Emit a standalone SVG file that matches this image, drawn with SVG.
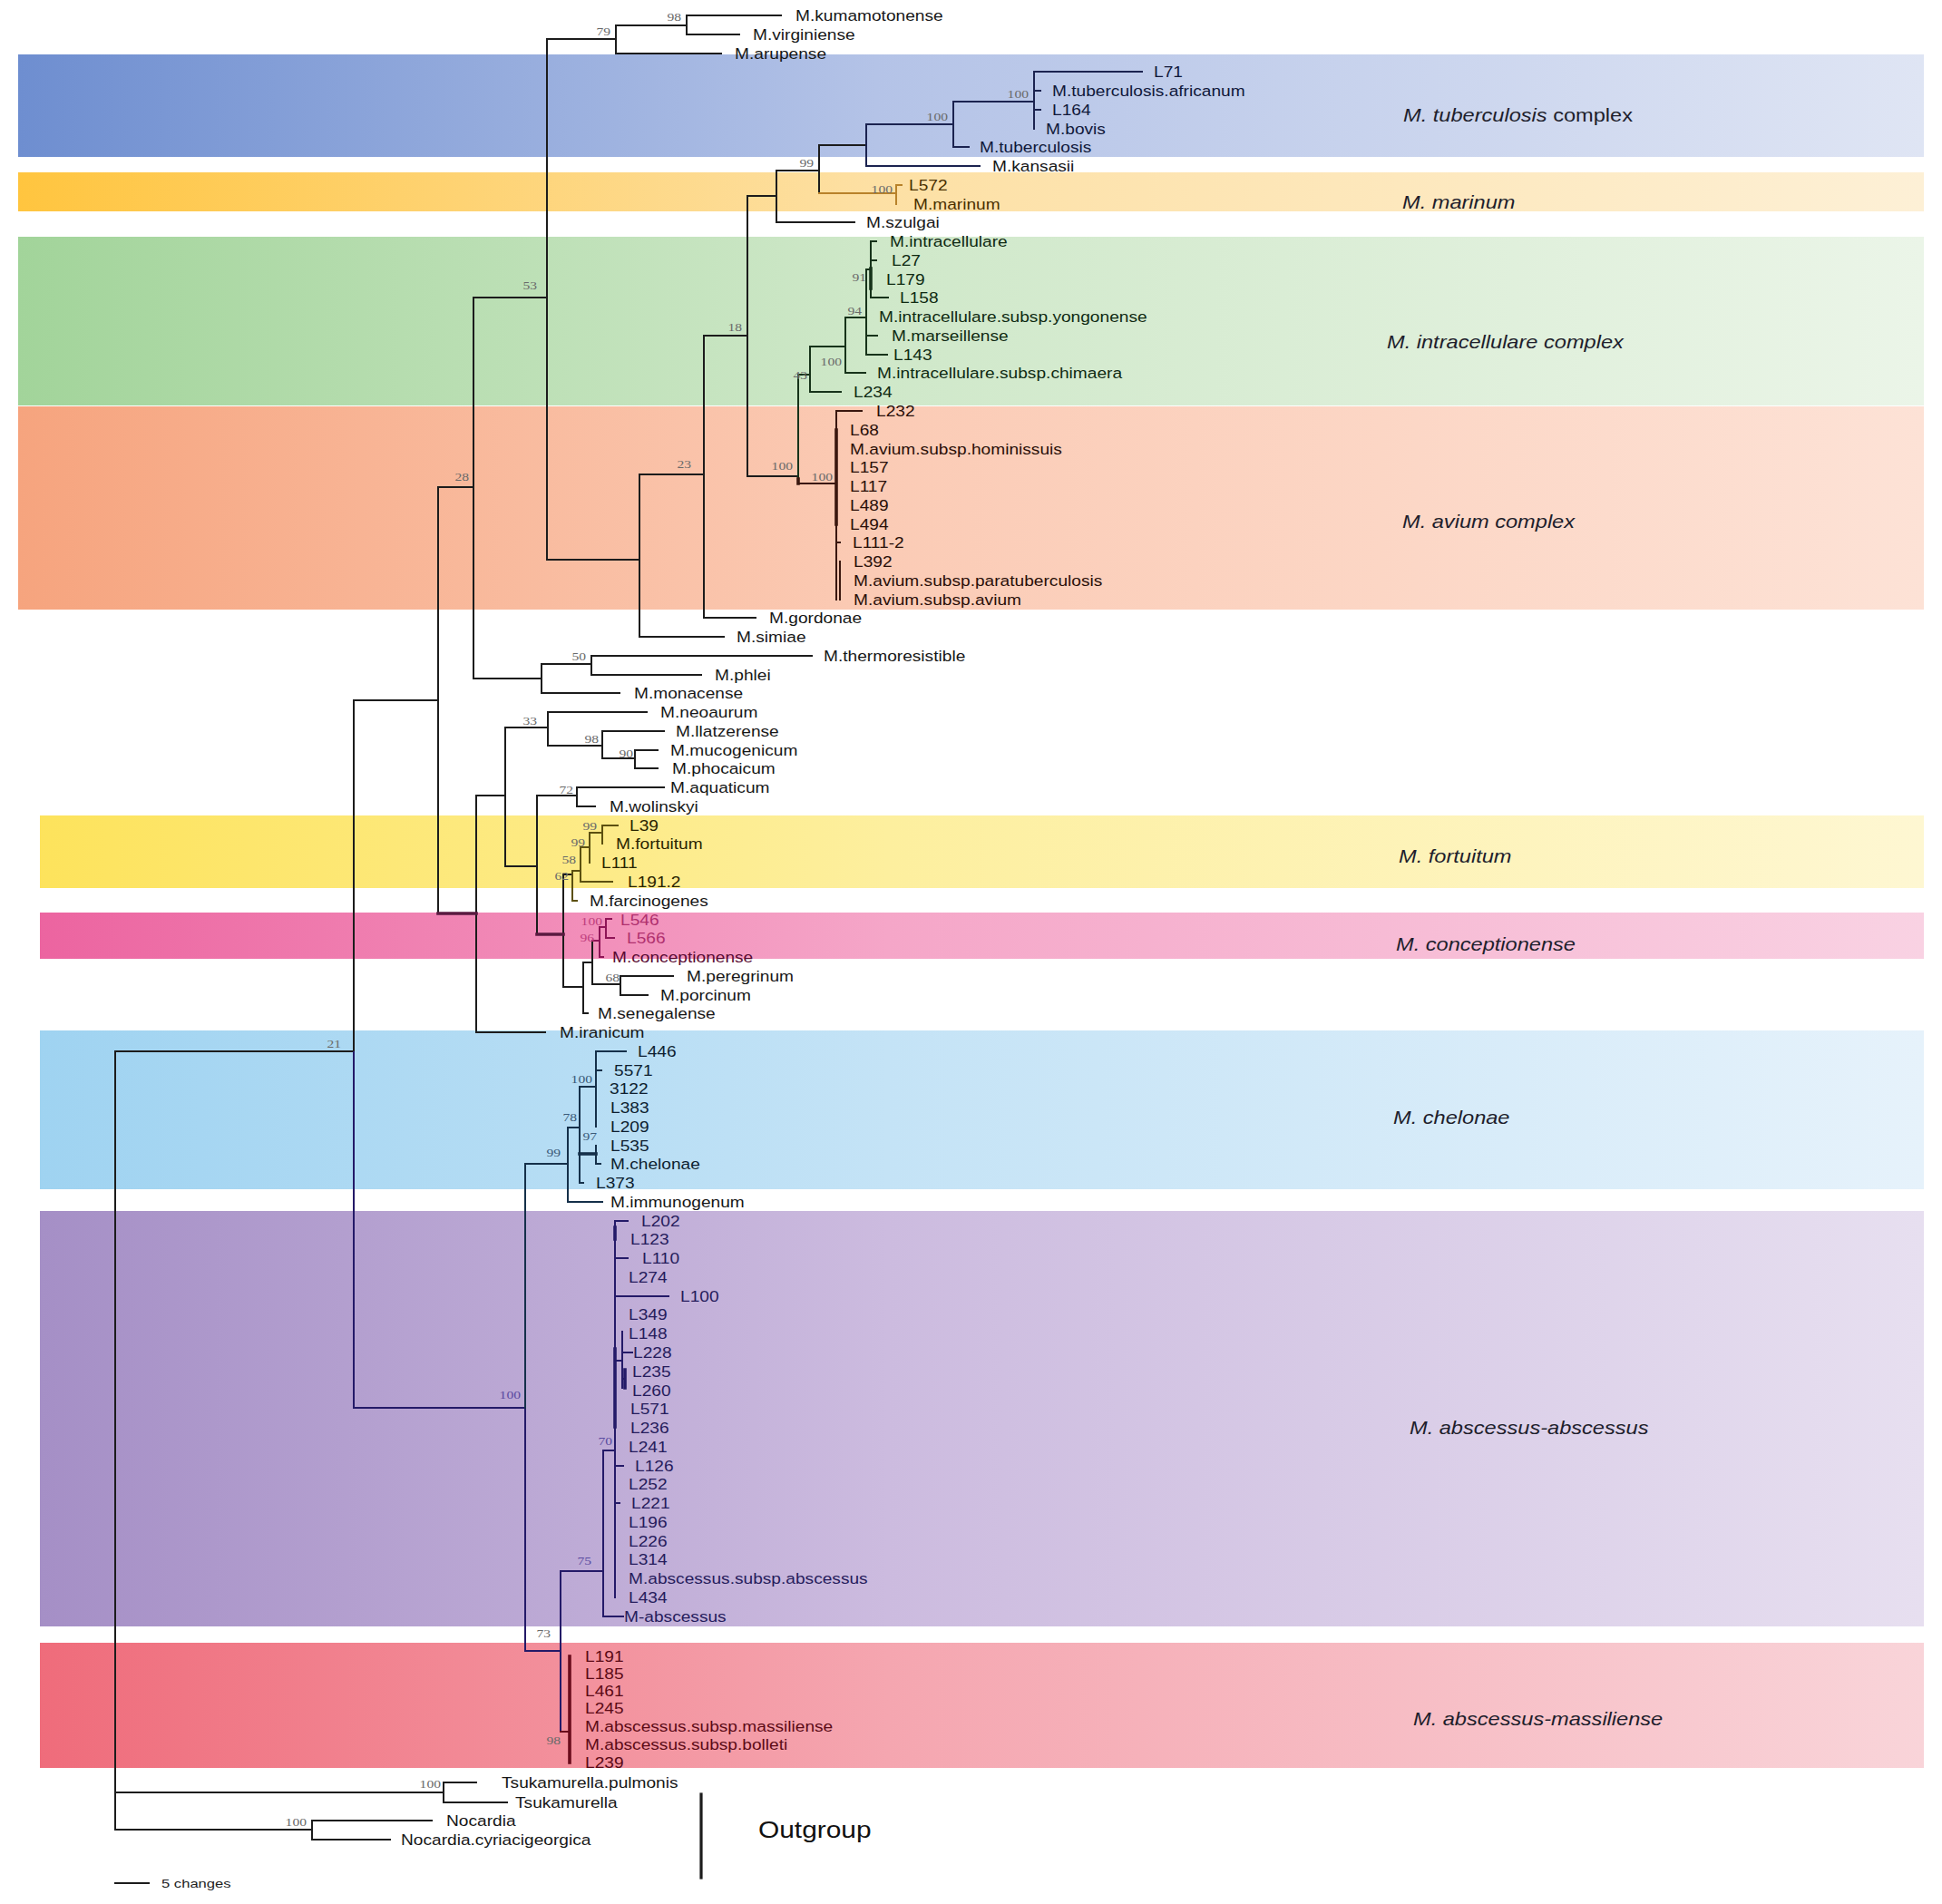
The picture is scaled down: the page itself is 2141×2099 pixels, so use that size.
<svg xmlns="http://www.w3.org/2000/svg" width="2141" height="2099" viewBox="0 0 2141 2099">
<style>
.br{fill:none;stroke:#1c1c1c;stroke-width:2;stroke-linecap:square}
.c-tb{stroke:#1b2350}
.c-ma{stroke:#b8822a}
.c-in{stroke:#17331a}
.c-av{stroke:#3a170e}
.c-fo{stroke:#5c5010}
.c-co{stroke:#8e1456}
.c-cm{stroke:#5a1a40}
.c-ch{stroke:#15304a}
.c-ab{stroke:#241a68}
.c-ms{stroke:#6a0c1c}
.thick{stroke-width:3.6}
.lf{font-family:"Liberation Sans",Arial,sans-serif;font-size:16.5px;fill:#171717}
.t-tb{fill:#10183a}.t-ma{fill:#4a3000}.t-in{fill:#0f2a12}.t-av{fill:#2a0f08}
.t-fo{fill:#2a2400}.t-co{fill:#b0306e}.t-cd{fill:#5a0a32}.t-ch{fill:#0e1e30}
.t-ab{fill:#261c5c}.t-ms{fill:#5c0a16}
.bs{font-family:"Liberation Serif","Times New Roman",serif;font-size:12px;fill:#6a6a6a;text-anchor:end}
.b-ab{fill:#5a4aa0}.b-co{fill:#c0407e}.b-ch{fill:#3a5a78}
.bl{font-family:"Liberation Sans",Arial,sans-serif;font-size:20px;font-style:italic;fill:#1e1e2c}
</style>
<defs>
<linearGradient id="g-tb" x1="20" y1="0" x2="2121" y2="0" gradientUnits="userSpaceOnUse"><stop offset="0" stop-color="#6e8ed0"/><stop offset="0.45" stop-color="#b4c3e7"/><stop offset="1" stop-color="#dfe5f4"/></linearGradient>
<linearGradient id="g-ma" x1="20" y1="0" x2="2121" y2="0" gradientUnits="userSpaceOnUse"><stop offset="0" stop-color="#ffc53f"/><stop offset="0.45" stop-color="#fde0a4"/><stop offset="1" stop-color="#fdf0d6"/></linearGradient>
<linearGradient id="g-in" x1="20" y1="0" x2="2121" y2="0" gradientUnits="userSpaceOnUse"><stop offset="0" stop-color="#a2d49a"/><stop offset="0.45" stop-color="#cfe8c9"/><stop offset="1" stop-color="#ebf5e8"/></linearGradient>
<linearGradient id="g-av" x1="20" y1="0" x2="2121" y2="0" gradientUnits="userSpaceOnUse"><stop offset="0" stop-color="#f6a47e"/><stop offset="0.45" stop-color="#fbcbb5"/><stop offset="1" stop-color="#fde2d6"/></linearGradient>
<linearGradient id="g-fo" x1="44" y1="0" x2="2121" y2="0" gradientUnits="userSpaceOnUse"><stop offset="0" stop-color="#fde35c"/><stop offset="0.45" stop-color="#fdef9e"/><stop offset="1" stop-color="#fef7d2"/></linearGradient>
<linearGradient id="g-co" x1="44" y1="0" x2="2121" y2="0" gradientUnits="userSpaceOnUse"><stop offset="0" stop-color="#ec64a0"/><stop offset="0.45" stop-color="#f5a6c8"/><stop offset="1" stop-color="#f9d2e3"/></linearGradient>
<linearGradient id="g-ch" x1="44" y1="0" x2="2121" y2="0" gradientUnits="userSpaceOnUse"><stop offset="0" stop-color="#9fd3f1"/><stop offset="0.45" stop-color="#c4e3f6"/><stop offset="1" stop-color="#e6f2fb"/></linearGradient>
<linearGradient id="g-ab" x1="44" y1="0" x2="2121" y2="0" gradientUnits="userSpaceOnUse"><stop offset="0" stop-color="#a58fc6"/><stop offset="0.45" stop-color="#ccbbdf"/><stop offset="1" stop-color="#e7dff0"/></linearGradient>
<linearGradient id="g-ms" x1="44" y1="0" x2="2121" y2="0" gradientUnits="userSpaceOnUse"><stop offset="0" stop-color="#ef6c7b"/><stop offset="0.45" stop-color="#f5a6b0"/><stop offset="1" stop-color="#f9d4d9"/></linearGradient>
</defs>
<rect width="2141" height="2099" fill="#ffffff"/>
<g id="bands">
<rect x="20" y="60" width="2101" height="113" fill="url(#g-tb)"/>
<rect x="20" y="190" width="2101" height="43" fill="url(#g-ma)"/>
<rect x="20" y="261" width="2101" height="186" fill="url(#g-in)"/>
<rect x="20" y="448" width="2101" height="224" fill="url(#g-av)"/>
<rect x="44" y="899" width="2077" height="80" fill="url(#g-fo)"/>
<rect x="44" y="1006" width="2077" height="51" fill="url(#g-co)"/>
<rect x="44" y="1136" width="2077" height="175" fill="url(#g-ch)"/>
<rect x="44" y="1335" width="2077" height="458" fill="url(#g-ab)"/>
<rect x="44" y="1811" width="2077" height="138" fill="url(#g-ms)"/>
</g>
<g id="band-labels">
<g id="lab-tb" transform="translate(1547 134)"><text class="bl" transform="scale(1.18 1)">M. tuberculosis<tspan font-style="normal"> complex</tspan></text></g>
<g id="lab-ma" transform="translate(1546 230)"><text class="bl" transform="scale(1.18 1)">M. marinum</text></g>
<g id="lab-in" transform="translate(1529 384)"><text class="bl" transform="scale(1.18 1)">M. intracellulare complex</text></g>
<g id="lab-av" transform="translate(1546 582)"><text class="bl" transform="scale(1.18 1)">M. avium complex</text></g>
<g id="lab-fo" transform="translate(1542 951)"><text class="bl" transform="scale(1.18 1)">M. fortuitum</text></g>
<g id="lab-co" transform="translate(1539 1048)"><text class="bl" transform="scale(1.18 1)">M. conceptionense</text></g>
<g id="lab-ch" transform="translate(1536 1239)"><text class="bl" transform="scale(1.18 1)">M. chelonae</text></g>
<g id="lab-ab" transform="translate(1554 1581)"><text class="bl" transform="scale(1.18 1)">M. abscessus-abscessus</text></g>
<g id="lab-ms" transform="translate(1558 1902)"><text class="bl" transform="scale(1.18 1)">M. abscessus-massiliense</text></g>
</g>
<g id="connectors">
<path class="br" d="M127 1159 V2017 M127 1159 H390 M127 1976 H489 M127 2017 H344 M489 1965 V1987 M489 1965 H525 M489 1987 H559 M344 2007 V2028 M344 2007 H476 M344 2028 H430"/>
<path class="br" d="M390 772 V1552 M390 772 H483 M483 537 V1007 M483 537 H522 M522 328 V748 M522 328 H603 M522 748 H597 M603 43 V617 M603 43 H679 M603 617 H705 M679 28 V59 M679 28 H757 M679 59 H795 M757 17 V38 M757 17 H861 M757 38 H815"/>
<path class="br" d="M705 523 V702 M705 523 H776 M705 702 H798 M776 370 V681 M776 370 H824 M776 681 H833 M824 216 V525 M824 216 H856 M824 525 H880 M856 188 V245 M856 188 H903 M856 245 H942 M903 160 V213 M903 160 H955"/>
<path class="br c-tb" d="M955 137 V183 M955 137 H1051 M955 183 H1080 M1051 112 V162 M1051 112 H1140 M1051 162 H1068 M1140 79 V142 M1140 79 H1259 M1140 100 H1147 M1140 121 H1147"/>
<path class="br c-ma" d="M903 213 H988 M988 204 V225 M988 204 H994"/>
<path class="br c-in" d="M880 413 V533 M880 413 H893 M893 382 V432 M893 382 H932 M893 432 H927 M932 350 V411 M932 350 H955 M932 411 H954 M955 297 V391 M955 297 H960 M955 370 H967 M955 391 H978 M960 266 V328 M960 266 H966 M960 287 H966 M960 328 H979"/>
<path class="br c-in thick" d="M960 296 V318"/>
<path class="br c-av" d="M880 533 H922 M922 453 V661 M922 453 H950 M922 598 H926 M926 619 V661"/>
<path class="br c-av thick" d="M922 474 V578 M880 528 V533"/>
<path class="br" d="M597 732 V764 M597 732 H652 M597 764 H683 M652 723 V744 M652 723 H895 M652 744 H773"/>
<path class="br" d="M525 877 V1138 M525 877 H557 M525 1138 H601 M557 802 V955 M557 802 H604 M557 955 H592 M604 785 V822 M604 785 H713 M604 822 H664 M664 806 V836 M664 806 H732 M664 836 H700 M700 827 V847 M700 827 H725 M700 847 H725 M592 877 V1030 M592 877 H636 M636 868 V889 M636 868 H732 M636 889 H656 M621 964 V1088 M621 964 H631 M621 1088 H643"/>
<path class="br c-cm thick" d="M483 1007 H525 M592 1030 H621"/>
<path class="br c-fo" d="M631 960 V993 M631 960 H640 M631 993 H636 M640 934 V972 M640 934 H650 M640 972 H675 M650 918 V951 M650 918 H664 M664 910 V930 M664 910 H681"/>
<path class="br" d="M643 1061 V1117 M643 1061 H653 M643 1117 H648 M653 1037 V1085 M653 1085 H684 M684 1076 V1097 M684 1076 H742 M684 1097 H714"/>
<path class="br c-co" d="M653 1037 H661 M661 1022 V1055 M661 1022 H668 M661 1055 H665 M668 1013 V1034 M668 1013 H674 M668 1034 H677"/>
<path class="br c-ab" d="M390 1160 V1552 M390 1552 H579 M579 1552 V1820"/>
<path class="br c-ch" d="M579 1283 V1552 M579 1283 H626 M626 1243 V1325 M626 1243 H639 M626 1325 H664 M639 1198 V1304 M639 1198 H657 M639 1304 H643 M657 1159 V1242 M657 1159 H690 M657 1180 H663 M657 1263 V1283 M657 1283 H662"/>
<path class="br c-ch thick" d="M639 1272 H657"/>
<path class="br c-ab" d="M579 1820 H618 M618 1732 V1909 M618 1732 H665 M665 1599 V1782 M665 1599 H678 M665 1782 H687 M678 1346 V1761 M678 1346 H692 M678 1387 H692 M678 1429 H737 M678 1500 H686 M686 1468 V1530 M686 1491 H697 M686 1520 H689 M678 1616 H687 M678 1657 H683"/>
<path class="br c-ab thick" d="M678 1353 V1366 M678 1487 V1573 M689 1510 V1530"/>
<path class="br c-ms" d="M618 1909 H628"/>
<path class="br c-ms thick" d="M628 1826 V1943"/>
<path class="br" d="M127 2076 H164"/>
<path class="br" style="stroke-width:3.2" d="M773 1978 V2070"/>
</g>
<g id="support">
<g transform="translate(751 23)"><text class="bs" transform="scale(1.3 1)">98</text></g>
<g transform="translate(673 39)"><text class="bs" transform="scale(1.3 1)">79</text></g>
<g transform="translate(1134 108)"><text class="bs" transform="scale(1.3 1)">100</text></g>
<g transform="translate(1045 133)"><text class="bs" transform="scale(1.3 1)">100</text></g>
<g transform="translate(897 184)"><text class="bs" transform="scale(1.3 1)">99</text></g>
<g transform="translate(984 213)"><text class="bs" transform="scale(1.3 1)">100</text></g>
<g transform="translate(955 310)"><text class="bs" transform="scale(1.3 1)">91</text></g>
<g transform="translate(950 347)"><text class="bs" transform="scale(1.3 1)">94</text></g>
<g transform="translate(928 403)"><text class="bs" transform="scale(1.3 1)">100</text></g>
<g transform="translate(890 418)"><text class="bs" transform="scale(1.3 1)">43</text></g>
<g transform="translate(818 365)"><text class="bs" transform="scale(1.3 1)">18</text></g>
<g transform="translate(874 518)"><text class="bs" transform="scale(1.3 1)">100</text></g>
<g transform="translate(918 530)"><text class="bs" transform="scale(1.3 1)">100</text></g>
<g transform="translate(762 516)"><text class="bs" transform="scale(1.3 1)">23</text></g>
<g transform="translate(592 319)"><text class="bs" transform="scale(1.3 1)">53</text></g>
<g transform="translate(517 530)"><text class="bs" transform="scale(1.3 1)">28</text></g>
<g transform="translate(376 1155)"><text class="bs" transform="scale(1.3 1)">21</text></g>
<g transform="translate(646 728)"><text class="bs" transform="scale(1.3 1)">50</text></g>
<g transform="translate(592 799)"><text class="bs" transform="scale(1.3 1)">33</text></g>
<g transform="translate(660 819)"><text class="bs" transform="scale(1.3 1)">98</text></g>
<g transform="translate(698 835)"><text class="bs" transform="scale(1.3 1)">90</text></g>
<g transform="translate(632 875)"><text class="bs" transform="scale(1.3 1)">72</text></g>
<g transform="translate(658 915)"><text class="bs" transform="scale(1.3 1)">99</text></g>
<g transform="translate(645 933)"><text class="bs" transform="scale(1.3 1)">99</text></g>
<g transform="translate(635 952)"><text class="bs" transform="scale(1.3 1)">58</text></g>
<g transform="translate(627 970)"><text class="bs" transform="scale(1.3 1)">62</text></g>
<g transform="translate(664 1020)"><text class="bs b-co" transform="scale(1.3 1)">100</text></g>
<g transform="translate(655 1038)"><text class="bs b-co" transform="scale(1.3 1)">96</text></g>
<g transform="translate(683 1082)"><text class="bs" transform="scale(1.3 1)">68</text></g>
<g transform="translate(653 1194)"><text class="bs b-ch" transform="scale(1.3 1)">100</text></g>
<g transform="translate(636 1236)"><text class="bs b-ch" transform="scale(1.3 1)">78</text></g>
<g transform="translate(658 1257)"><text class="bs b-ch" transform="scale(1.3 1)">97</text></g>
<g transform="translate(618 1275)"><text class="bs b-ch" transform="scale(1.3 1)">99</text></g>
<g transform="translate(574 1542)"><text class="bs b-ab" transform="scale(1.3 1)">100</text></g>
<g transform="translate(675 1593)"><text class="bs b-ab" transform="scale(1.3 1)">70</text></g>
<g transform="translate(652 1725)"><text class="bs b-ab" transform="scale(1.3 1)">75</text></g>
<g transform="translate(607 1805)"><text class="bs" transform="scale(1.3 1)">73</text></g>
<g transform="translate(618 1923)"><text class="bs" transform="scale(1.3 1)">98</text></g>
<g transform="translate(486 1971)"><text class="bs" transform="scale(1.3 1)">100</text></g>
<g transform="translate(338 2013)"><text class="bs" transform="scale(1.3 1)">100</text></g>
</g>
<g id="leaves">
<g id="n-kumamotonense" transform="translate(877 23)"><text class="lf" transform="scale(1.16 1)">M.kumamotonense</text></g>
<g id="n-virginiense" transform="translate(830 43.8)"><text class="lf" transform="scale(1.16 1)">M.virginiense</text></g>
<g id="n-arupense" transform="translate(810 64.5)"><text class="lf" transform="scale(1.16 1)">M.arupense</text></g>
<g id="n-L71" transform="translate(1272 85.3)"><text class="lf t-tb" transform="scale(1.16 1)">L71</text></g>
<g id="n-africanum" transform="translate(1160 106)"><text class="lf t-tb" transform="scale(1.16 1)">M.tuberculosis.africanum</text></g>
<g id="n-L164" transform="translate(1160 126.8)"><text class="lf t-tb" transform="scale(1.16 1)">L164</text></g>
<g id="n-bovis" transform="translate(1153 147.6)"><text class="lf t-tb" transform="scale(1.16 1)">M.bovis</text></g>
<g id="n-tuberculosis" transform="translate(1080 168.3)"><text class="lf t-tb" transform="scale(1.16 1)">M.tuberculosis</text></g>
<g id="n-kansasii" transform="translate(1094 189.1)"><text class="lf" transform="scale(1.16 1)">M.kansasii</text></g>
<g id="n-L572" transform="translate(1002 209.8)"><text class="lf t-ma" transform="scale(1.16 1)">L572</text></g>
<g id="n-marinum" transform="translate(1007 230.6)"><text class="lf t-ma" transform="scale(1.16 1)">M.marinum</text></g>
<g id="n-szulgai" transform="translate(955 251.4)"><text class="lf" transform="scale(1.16 1)">M.szulgai</text></g>
<g id="n-intracellulare" transform="translate(981 272.1)"><text class="lf t-in" transform="scale(1.16 1)">M.intracellulare</text></g>
<g id="n-L27" transform="translate(983 292.9)"><text class="lf t-in" transform="scale(1.16 1)">L27</text></g>
<g id="n-L179" transform="translate(977 313.6)"><text class="lf t-in" transform="scale(1.16 1)">L179</text></g>
<g id="n-L158" transform="translate(992 334.4)"><text class="lf t-in" transform="scale(1.16 1)">L158</text></g>
<g id="n-yongonense" transform="translate(969 355.2)"><text class="lf t-in" transform="scale(1.16 1)">M.intracellulare.subsp.yongonense</text></g>
<g id="n-marseillense" transform="translate(983 375.9)"><text class="lf t-in" transform="scale(1.16 1)">M.marseillense</text></g>
<g id="n-L143" transform="translate(985 396.7)"><text class="lf t-in" transform="scale(1.16 1)">L143</text></g>
<g id="n-chimaera" transform="translate(967 417.4)"><text class="lf t-in" transform="scale(1.16 1)">M.intracellulare.subsp.chimaera</text></g>
<g id="n-L234" transform="translate(941 438.2)"><text class="lf t-in" transform="scale(1.16 1)">L234</text></g>
<g id="n-L232" transform="translate(966 459)"><text class="lf t-av" transform="scale(1.16 1)">L232</text></g>
<g id="n-L68" transform="translate(937 479.7)"><text class="lf t-av" transform="scale(1.16 1)">L68</text></g>
<g id="n-hominissuis" transform="translate(937 500.5)"><text class="lf t-av" transform="scale(1.16 1)">M.avium.subsp.hominissuis</text></g>
<g id="n-L157" transform="translate(937 521.2)"><text class="lf t-av" transform="scale(1.16 1)">L157</text></g>
<g id="n-L117" transform="translate(937 542)"><text class="lf t-av" transform="scale(1.16 1)">L117</text></g>
<g id="n-L489" transform="translate(937 562.8)"><text class="lf t-av" transform="scale(1.16 1)">L489</text></g>
<g id="n-L494" transform="translate(937 583.5)"><text class="lf t-av" transform="scale(1.16 1)">L494</text></g>
<g id="n-L111-2" transform="translate(940 604.3)"><text class="lf t-av" transform="scale(1.16 1)">L111-2</text></g>
<g id="n-L392" transform="translate(941 625)"><text class="lf t-av" transform="scale(1.16 1)">L392</text></g>
<g id="n-paratuberculosis" transform="translate(941 645.8)"><text class="lf t-av" transform="scale(1.16 1)">M.avium.subsp.paratuberculosis</text></g>
<g id="n-avium" transform="translate(941 666.6)"><text class="lf t-av" transform="scale(1.16 1)">M.avium.subsp.avium</text></g>
<g id="n-gordonae" transform="translate(848 687.3)"><text class="lf" transform="scale(1.16 1)">M.gordonae</text></g>
<g id="n-simiae" transform="translate(812 708.1)"><text class="lf" transform="scale(1.16 1)">M.simiae</text></g>
<g id="n-thermoresistible" transform="translate(908 728.8)"><text class="lf" transform="scale(1.16 1)">M.thermoresistible</text></g>
<g id="n-phlei" transform="translate(788 749.6)"><text class="lf" transform="scale(1.16 1)">M.phlei</text></g>
<g id="n-monacense" transform="translate(699 770.4)"><text class="lf" transform="scale(1.16 1)">M.monacense</text></g>
<g id="n-neoaurum" transform="translate(728 791.1)"><text class="lf" transform="scale(1.16 1)">M.neoaurum</text></g>
<g id="n-llatzerense" transform="translate(745 811.9)"><text class="lf" transform="scale(1.16 1)">M.llatzerense</text></g>
<g id="n-mucogenicum" transform="translate(739 832.6)"><text class="lf" transform="scale(1.16 1)">M.mucogenicum</text></g>
<g id="n-phocaicum" transform="translate(741 853.4)"><text class="lf" transform="scale(1.16 1)">M.phocaicum</text></g>
<g id="n-aquaticum" transform="translate(739 874.2)"><text class="lf" transform="scale(1.16 1)">M.aquaticum</text></g>
<g id="n-wolinskyi" transform="translate(672 894.9)"><text class="lf" transform="scale(1.16 1)">M.wolinskyi</text></g>
<g id="n-L39" transform="translate(694 915.7)"><text class="lf t-fo" transform="scale(1.16 1)">L39</text></g>
<g id="n-fortuitum" transform="translate(679 936.4)"><text class="lf t-fo" transform="scale(1.16 1)">M.fortuitum</text></g>
<g id="n-L111" transform="translate(663 957.2)"><text class="lf t-fo" transform="scale(1.16 1)">L111</text></g>
<g id="n-L191.2" transform="translate(692 978)"><text class="lf t-fo" transform="scale(1.16 1)">L191.2</text></g>
<g id="n-farcinogenes" transform="translate(650 998.7)"><text class="lf" transform="scale(1.16 1)">M.farcinogenes</text></g>
<g id="n-L546" transform="translate(684 1019.5)"><text class="lf t-co" transform="scale(1.16 1)">L546</text></g>
<g id="n-L566" transform="translate(691 1040.2)"><text class="lf t-co" transform="scale(1.16 1)">L566</text></g>
<g id="n-conceptionense" transform="translate(675 1061)"><text class="lf t-cd" transform="scale(1.16 1)">M.conceptionense</text></g>
<g id="n-peregrinum" transform="translate(757 1081.8)"><text class="lf" transform="scale(1.16 1)">M.peregrinum</text></g>
<g id="n-porcinum" transform="translate(728 1102.5)"><text class="lf" transform="scale(1.16 1)">M.porcinum</text></g>
<g id="n-senegalense" transform="translate(659 1123.3)"><text class="lf" transform="scale(1.16 1)">M.senegalense</text></g>
<g id="n-iranicum" transform="translate(617 1144)"><text class="lf" transform="scale(1.16 1)">M.iranicum</text></g>
<g id="n-L446" transform="translate(703 1164.8)"><text class="lf t-ch" transform="scale(1.16 1)">L446</text></g>
<g id="n-5571" transform="translate(677 1185.6)"><text class="lf t-ch" transform="scale(1.16 1)">5571</text></g>
<g id="n-3122" transform="translate(672 1206.3)"><text class="lf t-ch" transform="scale(1.16 1)">3122</text></g>
<g id="n-L383" transform="translate(673 1227.1)"><text class="lf t-ch" transform="scale(1.16 1)">L383</text></g>
<g id="n-L209" transform="translate(673 1247.8)"><text class="lf t-ch" transform="scale(1.16 1)">L209</text></g>
<g id="n-L535" transform="translate(673 1268.6)"><text class="lf t-ch" transform="scale(1.16 1)">L535</text></g>
<g id="n-chelonae" transform="translate(673 1289.4)"><text class="lf t-ch" transform="scale(1.16 1)">M.chelonae</text></g>
<g id="n-L373" transform="translate(657 1310.1)"><text class="lf t-ch" transform="scale(1.16 1)">L373</text></g>
<g id="n-immunogenum" transform="translate(673 1330.9)"><text class="lf" transform="scale(1.16 1)">M.immunogenum</text></g>
<g id="n-L202" transform="translate(707 1351.6)"><text class="lf t-ab" transform="scale(1.16 1)">L202</text></g>
<g id="n-L123" transform="translate(695 1372.4)"><text class="lf t-ab" transform="scale(1.16 1)">L123</text></g>
<g id="n-L110" transform="translate(708 1393.2)"><text class="lf t-ab" transform="scale(1.16 1)">L110</text></g>
<g id="n-L274" transform="translate(693 1413.9)"><text class="lf t-ab" transform="scale(1.16 1)">L274</text></g>
<g id="n-L100" transform="translate(750 1434.7)"><text class="lf t-ab" transform="scale(1.16 1)">L100</text></g>
<g id="n-L349" transform="translate(693 1455.4)"><text class="lf t-ab" transform="scale(1.16 1)">L349</text></g>
<g id="n-L148" transform="translate(693 1476.2)"><text class="lf t-ab" transform="scale(1.16 1)">L148</text></g>
<g id="n-L228" transform="translate(698 1497)"><text class="lf t-ab" transform="scale(1.16 1)">L228</text></g>
<g id="n-L235" transform="translate(697 1517.7)"><text class="lf t-ab" transform="scale(1.16 1)">L235</text></g>
<g id="n-L260" transform="translate(697 1538.5)"><text class="lf t-ab" transform="scale(1.16 1)">L260</text></g>
<g id="n-L571" transform="translate(695 1559.2)"><text class="lf t-ab" transform="scale(1.16 1)">L571</text></g>
<g id="n-L236" transform="translate(695 1580)"><text class="lf t-ab" transform="scale(1.16 1)">L236</text></g>
<g id="n-L241" transform="translate(693 1600.8)"><text class="lf t-ab" transform="scale(1.16 1)">L241</text></g>
<g id="n-L126" transform="translate(700 1621.5)"><text class="lf t-ab" transform="scale(1.16 1)">L126</text></g>
<g id="n-L252" transform="translate(693 1642.3)"><text class="lf t-ab" transform="scale(1.16 1)">L252</text></g>
<g id="n-L221" transform="translate(696 1663)"><text class="lf t-ab" transform="scale(1.16 1)">L221</text></g>
<g id="n-L196" transform="translate(693 1683.8)"><text class="lf t-ab" transform="scale(1.16 1)">L196</text></g>
<g id="n-L226" transform="translate(693 1704.6)"><text class="lf t-ab" transform="scale(1.16 1)">L226</text></g>
<g id="n-L314" transform="translate(693 1725.3)"><text class="lf t-ab" transform="scale(1.16 1)">L314</text></g>
<g id="n-abscessus-abscessus" transform="translate(693 1746.1)"><text class="lf t-ab" transform="scale(1.16 1)">M.abscessus.subsp.abscessus</text></g>
<g id="n-L434" transform="translate(693 1766.8)"><text class="lf t-ab" transform="scale(1.16 1)">L434</text></g>
<g id="n-M-abscessus" transform="translate(688 1787.6)"><text class="lf t-ab" transform="scale(1.16 1)">M-abscessus</text></g>
<g id="n-L191" transform="translate(645 1832)"><text class="lf t-ms" transform="scale(1.16 1)">L191</text></g>
<g id="n-L185" transform="translate(645 1851)"><text class="lf t-ms" transform="scale(1.16 1)">L185</text></g>
<g id="n-L461" transform="translate(645 1870)"><text class="lf t-ms" transform="scale(1.16 1)">L461</text></g>
<g id="n-L245" transform="translate(645 1889)"><text class="lf t-ms" transform="scale(1.16 1)">L245</text></g>
<g id="n-massiliense" transform="translate(645 1909)"><text class="lf t-ms" transform="scale(1.16 1)">M.abscessus.subsp.massiliense</text></g>
<g id="n-bolleti" transform="translate(645 1929)"><text class="lf t-ms" transform="scale(1.16 1)">M.abscessus.subsp.bolleti</text></g>
<g id="n-L239" transform="translate(645 1949)"><text class="lf t-ms" transform="scale(1.16 1)">L239</text></g>
<g id="n-tsukamurella-pulmonis" transform="translate(553 1971)"><text class="lf" transform="scale(1.16 1)">Tsukamurella.pulmonis</text></g>
<g id="n-tsukamurella" transform="translate(568 1993)"><text class="lf" transform="scale(1.16 1)">Tsukamurella</text></g>
<g id="n-nocardia" transform="translate(492 2013)"><text class="lf" transform="scale(1.16 1)">Nocardia</text></g>
<g id="n-nocardia-cyriacigeorgica" transform="translate(442 2034)"><text class="lf" transform="scale(1.16 1)">Nocardia.cyriacigeorgica</text></g>
</g>
<g id="outgroup" transform="translate(836 2026)"><text transform="scale(1.15 1)" style="font-family:'Liberation Sans',Arial,sans-serif;font-size:26px;fill:#111">Outgroup</text></g>
<g id="scale" transform="translate(178 2081)"><text transform="scale(1.33 1)" style="font-family:'Liberation Sans',Arial,sans-serif;font-size:12.5px;fill:#222">5 changes</text></g>
</svg>
